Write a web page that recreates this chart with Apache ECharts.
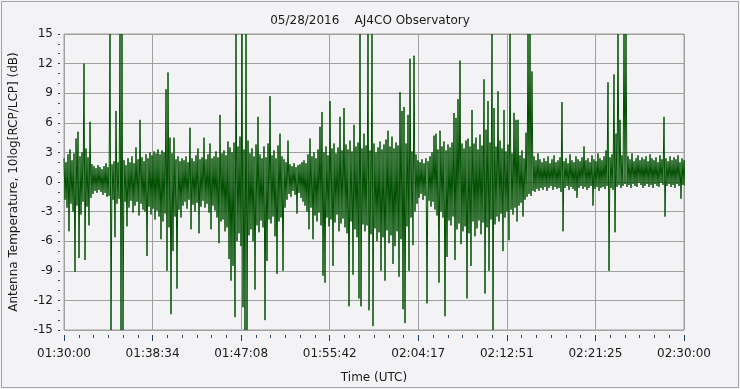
<!DOCTYPE html>
<html><head><meta charset="utf-8">
<script src="https://cdn.jsdelivr.net/npm/echarts@6/dist/echarts.min.js"></script>
<style>html,body{margin:0;padding:0;background:#f3f3f5}#c{width:740px;height:389px}</style>
</head><body><div id="c"></div>
<script>
const chartTitle = '05/28/2016    AJ4CO Observatory';
const xName = 'Time (UTC)';
const yName = 'Antenna Temperature, 10log[RCP/LCP] (dB)';
const xTickLabels = ['01:30:00','01:38:34','01:47:08','01:55:42','02:04:17','02:12:51','02:21:25','02:30:00'];
const spanSeconds = 3600;
// upper excursions, one per ~11.6 s sample
const hi = [
2.4,2.0,2.8,3.3,2.2,2.9,4.4,5.1,2.6,3.0,
12.0,3.4,2.5,6.1,1.8,1.6,1.4,1.7,1.5,1.3,
1.6,1.9,1.5,15,1.8,2.1,7.2,2.0,15,15,
2.2,1.7,2.4,2.0,2.6,1.9,3.5,2.3,6.3,2.5,
2.1,2.8,2.4,3.0,2.7,3.1,2.9,3.3,2.8,3.2,
3.0,9.4,11.1,4.5,2.9,4.5,2.3,2.6,2.1,2.4,
2.2,2.6,2.0,5.5,2.4,2.1,2.7,3.4,2.3,2.5,
4.5,2.3,2.8,3.9,2.4,2.6,3.1,2.5,6.8,2.9,
3.2,2.7,4.1,3.5,3.0,4.0,15,3.6,4.6,15,
3.3,15,4.2,2.9,3.4,2.6,3.8,6.6,2.8,2.4,
3.6,2.5,3.9,8.7,2.7,3.2,2.4,3.7,4.9,2.6,
2.3,2.0,4.2,1.8,1.6,1.9,1.5,1.7,1.8,2.0,
2.2,1.9,2.8,4.4,2.6,3.0,2.4,3.3,5.6,7.1,
3.0,3.6,2.7,8.2,3.4,3.9,2.9,3.5,6.6,3.2,
7.5,3.8,3.3,4.2,3.1,5.8,3.6,4.0,15,3.4,
4.9,3.7,15,3.2,15,3.9,3.0,3.5,4.1,3.3,
3.8,4.3,5.2,3.6,4.6,3.4,4.0,3.7,9.1,7.2,
7.6,3.9,6.8,12.5,3.1,12.8,2.8,2.2,2.0,2.3,
1.9,2.4,2.1,2.6,3.0,4.7,4.9,3.3,5.2,3.6,
4.1,3.2,3.8,3.5,4.0,7.0,6.5,8.4,12.3,3.9,
3.4,4.2,4.4,3.6,7.3,3.9,4.5,3.3,4.8,3.7,
10.4,5.3,8.2,4.0,15,7.5,3.6,9.2,4.2,3.4,
7.3,3.1,3.8,15,2.9,7.0,6.3,6.3,2.7,3.2,
2.4,5.0,15,15,11.2,2.6,2.2,2.9,2.3,2.0,
2.4,2.1,2.6,1.9,2.3,2.7,2.0,2.2,2.5,8.1,
2.1,2.4,1.9,2.8,2.2,2.0,2.6,2.3,2.1,2.5,
3.6,2.2,2.4,2.0,2.7,2.3,2.1,2.9,2.4,2.2,
2.6,3.2,10.1,2.5,2.8,10.9,4.9,15,6.3,2.7,
15,15,2.6,2.3,2.9,2.1,2.4,2.7,2.2,2.5,
2.3,2.6,2.1,2.8,2.4,2.2,2.5,2.0,2.7,2.3,
6.6,2.4,2.1,2.6,2.2,2.5,2.3,2.7,2.0,2.4,
2.2];
// lower excursions, half a sample later
const lo = [
-1.8,-2.6,-5.0,-2.2,-3.0,-9.1,-2.4,-7.7,-3.3,-2.0,
-7.9,-2.5,-4.4,-1.6,-1.2,-0.9,-1.1,-0.8,-1.0,-1.3,
-1.1,-1.5,-1.4,-15,-1.8,-5.6,-2.2,-1.7,-15,-15,
-2.0,-4.5,-2.6,-1.9,-3.1,-2.4,-2.0,-3.4,-2.2,-2.8,
-3.0,-7.5,-2.5,-3.3,-2.7,-3.8,-2.9,-3.5,-5.8,-4.0,
-3.2,-9.0,-4.6,-13.4,-7.0,-3.5,-10.8,-2.8,-3.6,-2.4,
-2.0,-2.7,-1.8,-4.8,-2.3,-3.0,-2.1,-5.2,-2.5,-1.9,
-2.6,-2.2,-3.1,-4.8,-2.4,-2.9,-3.6,-6.2,-4.0,-3.8,
-5.0,-4.6,-7.8,-10.0,-8.5,-13.7,-6.0,-5.2,-6.5,-12.7,
-15,-15,-5.4,-4.8,-6.0,-10.9,-4.4,-5.1,-3.9,-4.6,
-14.0,-8.0,-3.8,-4.2,-3.5,-5.5,-9.3,-4.0,-3.6,-9.0,
-2.6,-1.8,-1.2,-1.5,-0.9,-1.3,-3.2,-1.1,-1.6,-2.0,
-2.4,-3.0,-4.8,-2.6,-5.8,-3.4,-4.0,-3.1,-4.4,-9.5,
-10.2,-3.6,-4.5,-3.8,-8.5,-4.1,-3.3,-5.0,-4.2,-3.7,
-4.6,-5.2,-12.6,-4.0,-9.4,-4.8,-5.6,-11.8,-12.6,-4.3,
-5.0,-4.4,-13.0,-5.3,-14.6,-4.7,-6.0,-5.1,-9.0,-5.6,
-10.0,-4.9,-6.2,-5.4,-8.3,-6.5,-5.0,-9.6,-5.8,-12.9,
-14.3,-4.5,-9.0,-3.6,-6.4,-3.0,-2.2,-1.6,-1.2,-1.8,
-1.4,-12.3,-1.9,-2.5,-2.0,-2.8,-3.4,-10.2,-3.0,-3.6,
-13.6,-7.6,-3.9,-4.4,-3.5,-7.9,-4.8,-4.2,-6.3,-5.0,
-4.5,-11.8,-5.2,-8.5,-4.0,-5.5,-4.7,-3.9,-5.3,-4.1,
-11.3,-4.6,-9.0,-3.8,-15,-4.3,-3.5,-4.0,-3.2,-7.0,
-3.6,-3.0,-5.9,-2.8,-3.3,-2.6,-4.0,-2.4,-2.1,-3.5,
-1.8,-1.5,-1.2,-1.4,-0.9,-1.0,-0.7,-0.9,-0.6,-0.8,
-0.5,-0.9,-0.6,-0.4,-0.8,-0.5,-0.7,-0.6,-1.0,-5.0,
-0.6,-0.4,-0.8,-0.5,-0.7,-0.9,-1.6,-0.6,-0.4,-0.7,
-0.5,-0.8,-0.6,-0.4,-2.4,-0.7,-0.5,-0.9,-0.6,-0.5,
-0.7,-0.4,-9.0,-0.6,-0.8,-5.1,-0.5,-0.3,-0.6,-0.4,
-0.2,-0.5,-0.3,-0.6,-0.2,-0.4,-0.5,-0.1,-0.3,-0.6,
-0.4,-0.2,-0.5,-0.3,-0.6,-0.2,-0.4,-0.5,-0.1,-0.3,
-3.5,-0.4,-0.2,-0.5,-0.3,-0.6,-0.2,-0.4,-1.7,-0.3,
-0.4];

const step = spanSeconds / (hi.length - 1);
const data = [];
for (let i = 0; i < hi.length; i++) {
  data.push([i * step, hi[i]]);
  data.push([(i + 0.5) * step, lo[i]]);
}
const tickInterval = spanSeconds / (xTickLabels.length - 1);
const font = 'DejaVu Sans';
const chart = echarts.init(document.getElementById('c'), null, {renderer: 'canvas'});
chart.setOption({
  animation: false,
  backgroundColor: '#f3f3f5',
  title: {text: chartTitle, left: 'center', top: 10,
    textStyle: {fontFamily: font, fontSize: 12, fontWeight: 'normal', color: '#1a1a1a'}},
  graphic: [{type: 'rect', shape: {x: 1.5, y: 1.5, width: 737, height: 386},
    style: {fill: 'none', stroke: '#a4a4a4', lineWidth: 1}, silent: true}],
  grid: {left: 64, right: 56, top: 34, bottom: 58, show: true, borderColor: '#a0a0a0', borderWidth: 1, backgroundColor: 'transparent'},
  xAxis: {
    type: 'value', min: 0, max: spanSeconds, interval: tickInterval, offset: 5,
    name: xName, nameLocation: 'middle', nameGap: 37,
    nameTextStyle: {fontFamily: font, fontSize: 12, color: '#1a1a1a'},
    axisLine: {show: false, onZero: false},
    axisTick: {show: true, length: 6, lineStyle: {color: '#1f3b66'}},
    minorTick: {show: true, splitNumber: 6, length: 3, lineStyle: {color: '#33475f'}},
    splitLine: {show: true, lineStyle: {color: '#a0a0a0', width: 1}},
    axisLabel: {margin: 13, fontFamily: font, fontSize: 12, color: '#1a1a1a',
      formatter: v => xTickLabels[Math.round(v / tickInterval)] || ''}
  },
  yAxis: {
    type: 'value', min: -15, max: 15, interval: 3, offset: 4,
    name: yName, nameLocation: 'middle', nameGap: 40,
    nameTextStyle: {fontFamily: font, fontSize: 12, color: '#1a1a1a'},
    axisLine: {show: false, onZero: false},
    axisTick: {show: true, length: 2, lineStyle: {color: '#1f3b66'}},
    minorTick: {show: true, splitNumber: 3, length: 2, lineStyle: {color: '#33475f'}},
    splitLine: {show: true, lineStyle: {color: '#a0a0a0', width: 1}},
    axisLabel: {margin: 7, fontFamily: font, fontSize: 12, color: '#1a1a1a'}
  },
  series: [{
    type: 'line', data: data, showSymbol: false, clip: true,
    lineStyle: {color: '#004f00', width: 1}, itemStyle: {color: '#004f00'}
  }]
});
</script></body></html>
